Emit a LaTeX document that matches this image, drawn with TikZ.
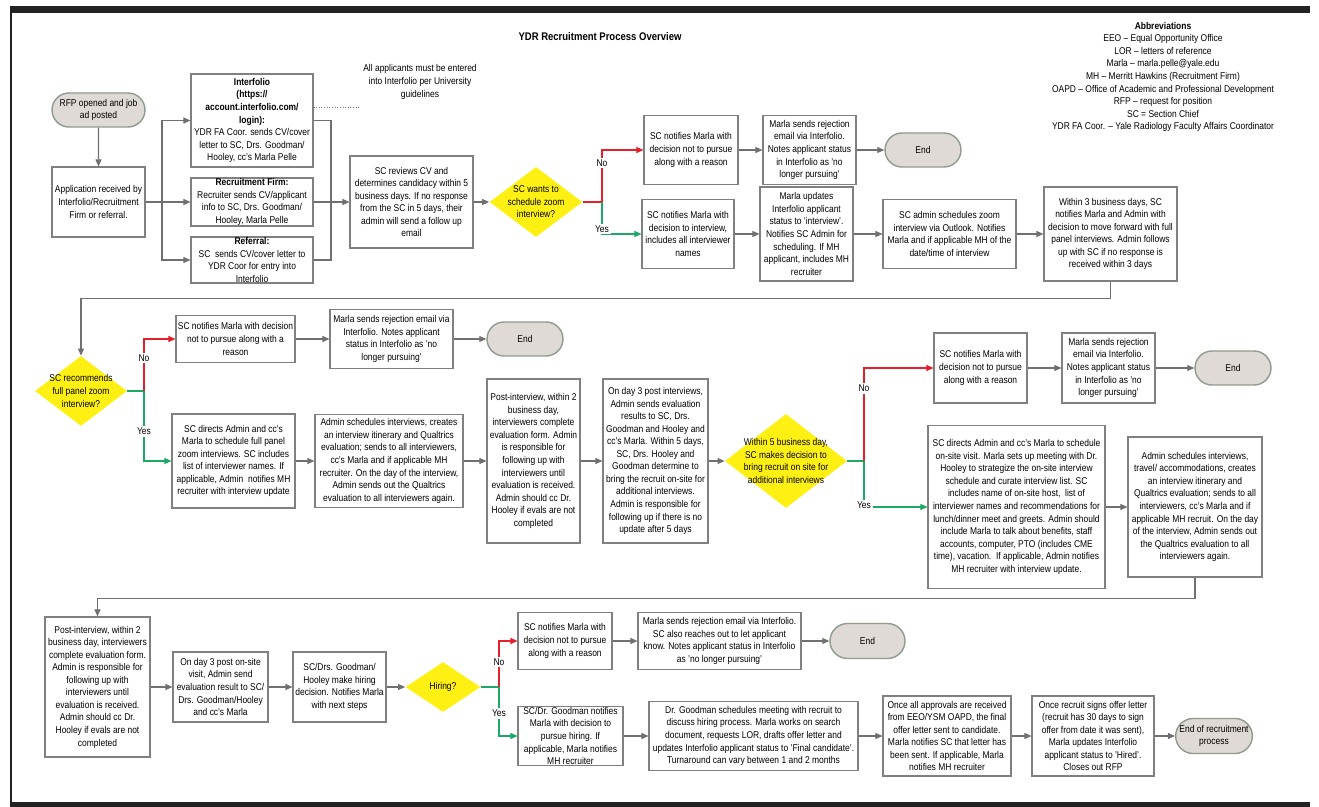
\documentclass[tikz,border=0pt]{standalone}
\usepackage{fontspec}
\setmainfont{Liberation Sans}[FakeStretch=0.86]
\usetikzlibrary{shapes.geometric,shapes.misc,arrows.meta}

\definecolor{linegray}{RGB}{112,112,112}
\definecolor{boxgray}{RGB}{128,128,128}
\definecolor{termfill}{RGB}{223,218,213}
\definecolor{termedge}{RGB}{142,156,144}
\definecolor{diayellow}{RGB}{255,240,20}
\definecolor{nored}{RGB}{228,32,44}
\definecolor{yesgreen}{RGB}{30,168,104}
\definecolor{framedark}{RGB}{34,34,34}
\newcommand\flowfont{\fontsize{5.6}{7.15}\selectfont}

\tikzset{
	box/.style={draw=boxgray, line width=0.6pt, fill=white, inner sep=0pt, align=center, font=\flowfont},
	sz/.style 2 args={minimum width=#1*0.02cm, minimum height=#2*0.02cm},
	term/.style={rounded rectangle, draw=termedge, line width=0.8pt, fill=termfill, inner sep=0pt, align=center, font=\flowfont},
	dia/.style={diamond, fill=diayellow, inner sep=0pt},
	dtext/.style={align=center, font=\flowfont},
	flow/.style={draw=linegray, line width=0.6pt},
	arr/.style={flow, -{Triangle[length=4pt,width=3.4pt]}},
	nopath/.style={draw=nored, line width=0.6pt},
	noarr/.style={nopath, -{Triangle[length=4pt,width=3.4pt]}},
	yespath/.style={draw=yesgreen, line width=0.6pt},
	yesarr/.style={yespath, -{Triangle[length=4pt,width=3.4pt]}},
	lbl/.style={fill=white, inner sep=1pt, font=\flowfont, text=black},
}

\begin{document}
\begin{tikzpicture}[x=0.02cm, y=-0.02cm]
			
			% Page and frame
			\fill[white] (0,0) rectangle (1319,807);
			\useasboundingbox (0,0) rectangle (1319,807);
			\fill[framedark] (10,6) rectangle (1310,13);
			\fill[framedark] (10,802) rectangle (1310,807);
			\draw[framedark, line width=0.6pt] (11,13) -- (11,802);
			
			% Title and abbreviations
			\node[font=\fontsize{6.3}{7.5}\selectfont\bfseries] (title) at (600,37) {YDR Recruitment Process Overview};
			\node[dtext, font=\fontsize{5.6}{7.15}\selectfont] (abbr) at (1163,77) {\textbf{Abbreviations}\\EEO -- Equal Opportunity Office\\LOR -- letters of reference\\Marla -- marla.pelle@yale.edu\\MH -- Merritt Hawkins (Recruitment Firm)\\OAPD -- Office of Academic and Professional Development\\RFP -- request for position\\SC = Section Chief\\YDR FA Coor. -- Yale Radiology Faculty Affairs Coordinator};
			
			% Row 1: application and zoom interview
			\node[term, sz={93}{34}] (rfp) at (98.5,110) {RFP opened and job\\ad posted};
			\node[box, sz={93}{70}] (app) at (98.5,202) {Application received by\\Interfolio/Recruitment\\Firm or referral.};
			\node[box, sz={122}{93}] (ifo) at (252,120.5) {\textbf{Interfolio}\\\textbf{(https://}\\\textbf{account.interfolio.com/}\\\textbf{login):}\\YDR FA Coor. sends CV/cover\\letter to SC, Drs. Goodman/\\Hooley, cc's Marla Pelle};
			\node[box, sz={122}{48}] (rf) at (252,202) {\textbf{Recruitment Firm:}\\Recruiter sends CV/applicant\\info to SC, Drs. Goodman/\\Hooley, Marla Pelle};
			\node[box, sz={122}{46}] (ref) at (252,260) {\textbf{Referral:}\\SC\ \ sends CV/cover letter to\\YDR Coor for entry into\\Interfolio};
			\node[dtext] (note) at (420,82) {All applicants must be entered\\into Interfolio per University\\guidelines};
			\coordinate (noteend) at (360,107);
			\node[box, sz={123}{92}] (rev) at (411.5,202) {SC reviews CV and\\determines candidacy within 5\\business days. If no response\\from the SC in 5 days, their\\admin will send a follow up\\email};
			\node[dia, sz={93}{70}, label={[dtext]center:{SC wants to\\schedule zoom\\interview?}}] (d1) at (536,202) {};
			\node[box, sz={94}{69}] (no1) at (691,150) {SC notifies Marla with\\decision not to pursue\\along with a reason};
			\node[box, sz={93}{69}] (rej1) at (809.5,150) {Marla sends rejection\\email via Interfolio.\\Notes applicant status\\in Interfolio as 'no\\longer pursuing'};
			\node[term, sz={76}{34}] (end1) at (923,150) {End};
			\node[box, sz={92}{69}] (yes1) at (688,234) {SC notifies Marla with\\decision to interview,\\includes all interviewer\\names};
			\node[box, sz={93}{94}] (upd) at (806.5,234) {Marla updates\\Interfolio applicant\\status to 'interview'.\\Notifies SC Admin for\\scheduling. If MH\\applicant, includes MH\\recruiter};
			\node[box, sz={133}{69}] (zoom) at (949.5,234) {SC admin schedules zoom\\interview via Outlook. Notifies\\Marla and if applicable MH of the\\date/time of interview};
			\node[box, sz={133}{94}] (w3) at (1110.5,234) {Within 3 business days, SC\\notifies Marla and Admin with\\decision to move forward with full\\panel interviews. Admin follows\\up with SC if no response is\\received within 3 days};
			
			\coordinate (bl) at (162,202);
			\coordinate (br) at (331,202);
			\coordinate (j1) at (602,202);
			\draw[arr] (rfp) -- (app);
			\draw[arr] (app.east) -- (rf.west);
			\draw[arr] (bl) |- (ifo.west);
			\draw[arr] (bl) |- (ref.west);
			\draw[flow] (ifo.east) -| (br);
			\draw[flow] (ref.east) -| (br);
			\draw[arr] (rf.east) -- (rev.west);
			\draw[draw=linegray, line width=0.5pt, densely dotted] (ifo.east |- noteend) -- (noteend);
			\draw[arr] (rev.east) -- (d1.west);
			\draw[nopath] (d1.east) -- (j1);
			\draw[noarr] (j1) |- (no1.west) node[lbl, pos=0.375] {No};
			\draw[yesarr] (j1) |- (yes1.west) node[lbl, pos=0.42] {Yes};
			\draw[arr] (no1) -- (rej1);
			\draw[arr] (rej1) -- (end1);
			\draw[arr] (yes1) -- (upd);
			\draw[arr] (upd) -- (zoom);
			\draw[arr] (zoom) -- (w3);
			
			% Row 2: full panel zoom interview
			\node[dia, sz={92}{70}, label={[dtext]center:{SC recommends\\full panel zoom\\interview?}}] (d2) at (81,391) {};
			\node[box, sz={119}{47}] (no2) at (235.5,339) {SC notifies Marla with decision\\not to pursue along with a\\reason};
			\node[box, sz={123}{59}] (rej2) at (391.5,339) {Marla sends rejection email via\\Interfolio. Notes applicant\\status in Interfolio as 'no\\longer pursuing'};
			\node[term, sz={76}{34}] (end2) at (525,339) {End};
			\node[box, sz={123}{94}] (yes2) at (233.5,461) {SC directs Admin and cc's\\Marla to schedule full panel\\zoom interviews. SC includes\\list of interviewer names. If\\applicable, Admin\ \ notifies MH\\recruiter with interview update};
			\node[box, sz={148}{93}] (adm1) at (389,461) {Admin schedules interviews, creates\\an interview itinerary and Qualtrics\\evaluation; sends to all interviewers,\\cc's Marla and if applicable MH\\recruiter. On the day of the interview,\\Admin sends out the Qualtrics\\evaluation to all interviewers again.};
			\node[box, sz={93}{164}] (post1) at (533.5,461) {Post-interview, within 2\\business day,\\interviewers complete\\evaluation form. Admin\\is responsible for\\following up with\\interviewers until\\evaluation is received.\\Admin should cc Dr.\\Hooley if evals are not\\completed};
			\node[box, sz={105}{164}] (day3) at (655.5,461) {On day 3 post interviews,\\Admin sends evaluation\\results to SC, Drs.\\Goodman and Hooley and\\cc's Marla. Within 5 days,\\SC, Drs. Hooley and\\Goodman determine to\\bring the recruit on-site for\\additional interviews.\\Admin is responsible for\\following up if there is no\\update after 5 days};
			\node[dia, sz={122}{94}, label={[dtext]center:{Within 5 business day,\\SC makes decision to\\bring recruit on site for\\additional interviews}}] (d3) at (786,461) {};
			
			\coordinate (j2) at (144,391);
			\draw[arr] (w3.south) -- ++(0,17) -| (d2.north);
			\draw[yespath] (d2.east) -- (j2);
			\draw[noarr] (j2) |- (no2.west) node[lbl, pos=0.32] {No};
			\draw[yesarr] (j2) |- (yes2.west) node[lbl, pos=0.29] {Yes};
			\draw[arr] (no2) -- (rej2);
			\draw[arr] (rej2) -- (end2);
			\draw[arr] (yes2) -- (adm1);
			\draw[arr] (adm1) -- (post1);
			\draw[arr] (post1) -- (day3);
			\draw[arr] (day3) -- (d3.west);
			
			% Row 3: on-site visit
			\node[box, sz={93}{70}] (no3) at (980.5,368) {SC notifies Marla with\\decision not to pursue\\along with a reason};
			\node[box, sz={93}{70}] (rej3) at (1108.5,368) {Marla sends rejection\\email via Interfolio.\\Notes applicant status\\in Interfolio as 'no\\longer pursuing'};
			\node[term, sz={76}{34}] (end3) at (1233,368) {End};
			\node[box, sz={177}{163}] (yes3) at (1016.5,507) {SC directs Admin and cc's Marla to schedule\\on-site visit. Marla sets up meeting with Dr.\\Hooley to strategize the on-site interview\\schedule and curate interview list. SC\\includes name of on-site host,\ \ list of\\interviewer names and recommendations for\\lunch/dinner meet and greets. Admin should\\include Marla to talk about benefits, staff\\accounts, computer, PTO (includes CME\\time), vacation.\ \ If applicable, Admin notifies\\MH recruiter with interview update.};
			\node[box, sz={134}{140}] (adm2) at (1195,507) {Admin schedules interviews,\\travel/ accommodations, creates\\an interview itinerary and\\Qualtrics evaluation; sends to all\\interviewers, cc's Marla and if\\applicable MH recruit. On the day\\of the interview, Admin sends out\\the Qualtrics evaluation to all\\interviewers again.};
			
			\coordinate (j3) at (864,461);
			\draw[yespath] (d3.east) -- (j3);
			\draw[noarr] (j3) |- (no3.west) node[lbl, pos=0.39] {No};
			\draw[yesarr] (j3) |- (yes3.west) node[lbl, pos=0.48] {Yes};
			\draw[arr] (no3) -- (rej3);
			\draw[arr] (rej3) -- (end3);
			\draw[arr] (yes3) -- (adm2);
			
			% Row 4: hiring
			\node[box, sz={105}{140}] (post2) at (97.5,687) {Post-interview, within 2\\business day, interviewers\\complete evaluation form.\\Admin is responsible for\\following up with\\interviewers until\\evaluation is received.\\Admin should cc Dr.\\Hooley if evals are not\\completed};
			\node[box, sz={95}{70}] (day3b) at (220.5,687) {On day 3 post on-site\\visit, Admin send\\evaluation result to SC/\\Drs. Goodman/Hooley\\and cc's Marla};
			\node[box, sz={93}{70}] (dec) at (339.5,687) {SC/Drs. Goodman/\\Hooley make hiring\\decision. Notifies Marla\\with next steps};
			\node[dia, sz={75}{50}, label={[dtext]center:{Hiring?}}] (hire) at (443,687) {};
			\node[box, sz={94}{57}] (no4) at (565,641) {SC notifies Marla with\\decision not to pursue\\along with a reason};
			\node[box, sz={163}{57}] (rej4) at (719.5,641) {Marla sends rejection email via Interfolio.\\SC also reaches out to let applicant\\know. Notes applicant status in Interfolio\\as 'no longer pursuing'};
			\node[term, sz={75}{35}] (end4) at (867.5,641) {End};
			\node[box, sz={105}{59}] (yes4) at (570.5,736) {SC/Dr. Goodman notifies\\Marla with decision to\\pursue hiring. If\\applicable, Marla notifies\\MH recruiter};
			\node[box, sz={209}{69}] (good) at (753.5,736) {Dr. Goodman schedules meeting with recruit to\\discuss hiring process. Marla works on search\\document, requests LOR, drafts offer letter and\\updates Interfolio applicant status to 'Final candidate'.\\Turnaround can vary between 1 and 2 months};
			\node[box, sz={128}{80}] (appr) at (947,736) {Once all approvals are received\\from EEO/YSM OAPD, the final\\offer letter sent to candidate.\\Marla notifies SC that letter has\\been sent. If applicable, Marla\\notifies MH recruiter};
			\node[box, sz={122}{80}] (signs) at (1093,736) {Once recruit signs offer letter\\(recruit has 30 days to sign\\offer from date it was sent),\\Marla updates Interfolio\\applicant status to 'Hired'.\\Closes out RFP};
			\node[term, sz={76}{35}] (endf) at (1214,736) {End of recruitment\\process};
			
			\coordinate (j4) at (499,687);
			\draw[arr] (adm2.south) -- ++(0,21) -| (post2.north);
			\draw[arr] (post2) -- (day3b);
			\draw[arr] (day3b) -- (dec);
			\draw[arr] (dec) -- (hire.west);
			\draw[yespath] (hire.east) -- (j4);
			\draw[noarr] (j4) |- (no4.west) node[lbl, pos=0.27] {No};
			\draw[yesarr] (j4) |- (yes4.west) node[lbl, pos=0.27] {Yes};
			\draw[arr] (no4) -- (rej4);
			\draw[arr] (rej4) -- (end4);
			\draw[arr] (yes4) -- (good);
			\draw[arr] (good) -- (appr);
			\draw[arr] (appr) -- (signs);
			\draw[arr] (signs) -- (endf);
			
\end{tikzpicture}
\end{document}
